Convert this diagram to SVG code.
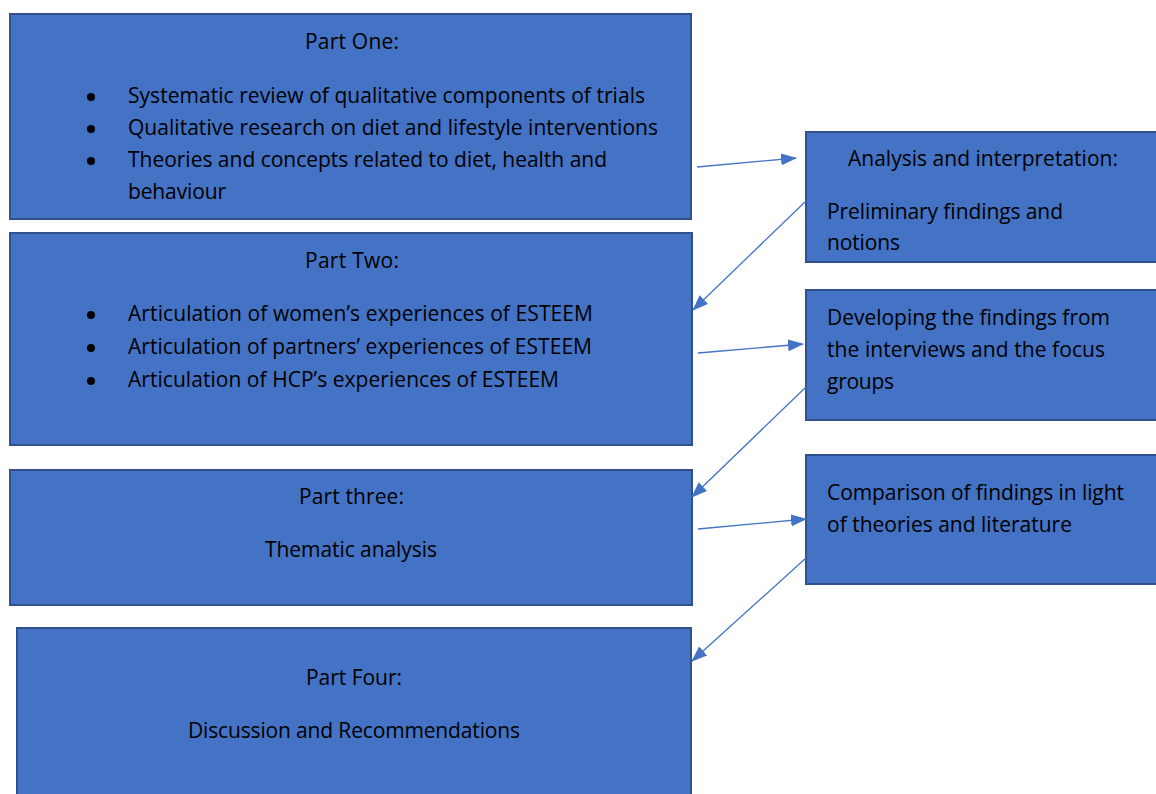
<svg xmlns="http://www.w3.org/2000/svg" width="1156" height="794" viewBox="0 0 1156 794">
  <defs>
    <style>
      .box { fill: #4472C4; stroke: #2F528F; stroke-width: 2; }
      .t { font-family: "Open Sans", "Liberation Sans", sans-serif; font-size: 21px; fill: #000; }
      .c { text-anchor: middle; }
      .bullet { fill: #000; }
      .link { fill: none; stroke: #4472C4; stroke-width: 1.3; marker-end: url(#arrow); }
    </style>
    <marker id="arrow" viewBox="0 0 16 12" refX="15" refY="6" markerWidth="16" markerHeight="12" markerUnits="userSpaceOnUse" orient="auto">
      <path d="M0,0 L16,6 L0,12 Z" fill="#4472C4"/>
    </marker>
  </defs>

  <rect width="1156" height="794" fill="#ffffff"/>

  <!-- Part One -->
  <g id="part-one">
    <rect class="box" x="10" y="14" width="681" height="205"/>
    <text class="t c" x="352" y="49" textLength="94">Part One:</text>
    <circle class="bullet" cx="91" cy="97" r="4"/>
    <circle class="bullet" cx="91" cy="129" r="4"/>
    <circle class="bullet" cx="91" cy="161" r="4"/>
    <text class="t" x="128" y="103" textLength="517">Systematic review of qualitative components of trials</text>
    <text class="t" x="128" y="135" textLength="530">Qualitative research on diet and lifestyle interventions</text>
    <text class="t" x="128" y="167" textLength="479">Theories and concepts related to diet, health and</text>
    <text class="t" x="128" y="199" textLength="98">behaviour</text>
  </g>

  <!-- Part Two -->
  <g id="part-two">
    <rect class="box" x="10" y="233" width="682" height="212"/>
    <text class="t c" x="352" y="268" textLength="94">Part Two:</text>
    <circle class="bullet" cx="91" cy="315" r="4"/>
    <circle class="bullet" cx="91" cy="348" r="4"/>
    <circle class="bullet" cx="91" cy="381" r="4"/>
    <text class="t" x="128" y="321" textLength="465">Articulation of women’s experiences of ESTEEM</text>
    <text class="t" x="128" y="354" textLength="464">Articulation of partners’ experiences of ESTEEM</text>
    <text class="t" x="128" y="387" textLength="431">Articulation of HCP’s experiences of ESTEEM</text>
  </g>

  <!-- Part three -->
  <g id="part-three">
    <rect class="box" x="10" y="470" width="682" height="135"/>
    <text class="t c" x="351.5" y="504" textLength="105">Part three:</text>
    <text class="t c" x="351" y="557" textLength="172">Thematic analysis</text>
  </g>

  <!-- Part Four -->
  <g id="part-four">
    <rect class="box" x="17" y="628" width="674" height="175"/>
    <text class="t c" x="354" y="685" textLength="96">Part Four:</text>
    <text class="t c" x="354" y="738" textLength="332">Discussion and Recommendations</text>
  </g>

  <!-- Analysis and interpretation -->
  <g id="analysis">
    <rect class="box" x="806" y="132" width="360" height="130"/>
    <text class="t" x="848" y="166" textLength="270">Analysis and interpretation:</text>
    <text class="t" x="827" y="219" textLength="236">Preliminary findings and</text>
    <text class="t" x="827" y="250" textLength="73">notions</text>
  </g>

  <!-- Developing the findings -->
  <g id="developing">
    <rect class="box" x="806" y="290" width="360" height="130"/>
    <text class="t" x="827" y="325" textLength="283">Developing the findings from</text>
    <text class="t" x="827" y="357" textLength="278">the interviews and the focus</text>
    <text class="t" x="827" y="389" textLength="67">groups</text>
  </g>

  <!-- Comparison of findings -->
  <g id="comparison">
    <rect class="box" x="806" y="455" width="360" height="129"/>
    <text class="t" x="827" y="500" textLength="297">Comparison of findings in light</text>
    <text class="t" x="827" y="532" textLength="245">of theories and literature</text>
  </g>

  <!-- Connectors -->
  <g id="connectors">
    <line class="link" x1="697" y1="167" x2="796" y2="158"/>
    <line class="link" x1="806" y1="201" x2="693" y2="310"/>
    <line class="link" x1="698" y1="353" x2="803" y2="344"/>
    <line class="link" x1="806" y1="387" x2="692" y2="497"/>
    <line class="link" x1="698" y1="529" x2="806" y2="519"/>
    <line class="link" x1="806" y1="558" x2="692" y2="661"/>
  </g>
</svg>
